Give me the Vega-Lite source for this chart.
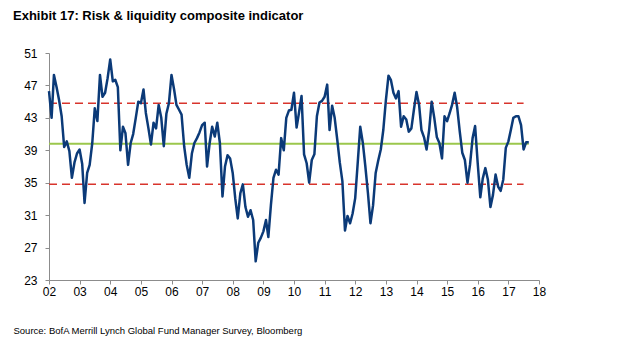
{
  "$schema": "https://vega.github.io/schema/vega-lite/v6.json",
  "autosize": "none",
  "width": 490,
  "height": 227,
  "padding": {"left": 49, "top": 53, "right": 101, "bottom": 84},
  "background": "white",
  "config": {
    "view": {"stroke": null},
    "font": "Liberation Sans, Arial"
  },
  "title": {
    "text": "Exhibit 17: Risk & liquidity composite indicator",
    "anchor": "start",
    "frame": "group",
    "dx": -36,
    "offset": 24,
    "fontSize": 13,
    "fontWeight": "bold",
    "color": "#000000",
    "font": "Liberation Sans, Arial"
  },
  "datasets": {
    "series": [
      {"d":"2002-01","v":46.3},{"d":"2002-02","v":43.0},{"d":"2002-03","v":48.3},{"d":"2002-04","v":46.8},{"d":"2002-05","v":45.2},{"d":"2002-06","v":43.2},{"d":"2002-07","v":39.4},{"d":"2002-08","v":40.1},{"d":"2002-09","v":38.9},{"d":"2002-10","v":35.6},{"d":"2002-11","v":37.5},{"d":"2002-12","v":38.6},
      {"d":"2003-01","v":39.1},{"d":"2003-02","v":37.3},{"d":"2003-03","v":32.5},{"d":"2003-04","v":36.2},{"d":"2003-05","v":37.2},{"d":"2003-06","v":39.9},{"d":"2003-07","v":44.2},{"d":"2003-08","v":42.6},{"d":"2003-09","v":48.3},{"d":"2003-10","v":45.6},{"d":"2003-11","v":46.1},{"d":"2003-12","v":47.9},
      {"d":"2004-01","v":50.2},{"d":"2004-02","v":47.5},{"d":"2004-03","v":47.7},{"d":"2004-04","v":46.8},{"d":"2004-05","v":39.0},{"d":"2004-06","v":41.9},{"d":"2004-07","v":41.1},{"d":"2004-08","v":37.2},{"d":"2004-09","v":39.9},{"d":"2004-10","v":41.0},{"d":"2004-11","v":43.0},{"d":"2004-12","v":45.0},
      {"d":"2005-01","v":44.8},{"d":"2005-02","v":46.5},{"d":"2005-03","v":43.6},{"d":"2005-04","v":41.7},{"d":"2005-05","v":39.7},{"d":"2005-06","v":42.4},{"d":"2005-07","v":41.7},{"d":"2005-08","v":44.6},{"d":"2005-09","v":43.0},{"d":"2005-10","v":39.5},{"d":"2005-11","v":43.5},{"d":"2005-12","v":44.8},
      {"d":"2006-01","v":48.3},{"d":"2006-02","v":46.5},{"d":"2006-03","v":44.6},{"d":"2006-04","v":44.0},{"d":"2006-05","v":43.4},{"d":"2006-06","v":39.5},{"d":"2006-07","v":37.2},{"d":"2006-08","v":35.6},{"d":"2006-09","v":38.6},{"d":"2006-10","v":39.9},{"d":"2006-11","v":40.5},{"d":"2006-12","v":41.2},
      {"d":"2007-01","v":42.1},{"d":"2007-02","v":42.4},{"d":"2007-03","v":37.0},{"d":"2007-04","v":39.9},{"d":"2007-05","v":41.9},{"d":"2007-06","v":40.7},{"d":"2007-07","v":42.4},{"d":"2007-08","v":39.9},{"d":"2007-09","v":33.3},{"d":"2007-10","v":37.0},{"d":"2007-11","v":38.4},{"d":"2007-12","v":38.0},
      {"d":"2008-01","v":36.2},{"d":"2008-02","v":33.0},{"d":"2008-03","v":30.6},{"d":"2008-04","v":33.7},{"d":"2008-05","v":34.8},{"d":"2008-06","v":32.0},{"d":"2008-07","v":30.8},{"d":"2008-08","v":31.6},{"d":"2008-09","v":30.4},{"d":"2008-10","v":25.3},{"d":"2008-11","v":27.6},{"d":"2008-12","v":28.2},
      {"d":"2009-01","v":29.0},{"d":"2009-02","v":30.4},{"d":"2009-03","v":28.3},{"d":"2009-04","v":32.3},{"d":"2009-05","v":35.6},{"d":"2009-06","v":36.6},{"d":"2009-07","v":36.0},{"d":"2009-08","v":40.5},{"d":"2009-09","v":39.0},{"d":"2009-10","v":43.0},{"d":"2009-11","v":43.9},{"d":"2009-12","v":44.0},
      {"d":"2010-01","v":46.1},{"d":"2010-02","v":41.8},{"d":"2010-03","v":43.6},{"d":"2010-04","v":45.7},{"d":"2010-05","v":38.5},{"d":"2010-06","v":37.4},{"d":"2010-07","v":35.0},{"d":"2010-08","v":37.8},{"d":"2010-09","v":38.5},{"d":"2010-10","v":43.2},{"d":"2010-11","v":44.9},{"d":"2010-12","v":45.1},
      {"d":"2011-01","v":45.6},{"d":"2011-02","v":47.1},{"d":"2011-03","v":41.5},{"d":"2011-04","v":44.5},{"d":"2011-05","v":43.0},{"d":"2011-06","v":40.3},{"d":"2011-07","v":37.5},{"d":"2011-08","v":35.2},{"d":"2011-09","v":29.1},{"d":"2011-10","v":30.9},{"d":"2011-11","v":30.0},{"d":"2011-12","v":31.2},
      {"d":"2012-01","v":33.1},{"d":"2012-02","v":37.6},{"d":"2012-03","v":41.9},{"d":"2012-04","v":39.9},{"d":"2012-05","v":37.0},{"d":"2012-06","v":33.7},{"d":"2012-07","v":30.0},{"d":"2012-08","v":32.2},{"d":"2012-09","v":36.2},{"d":"2012-10","v":37.7},{"d":"2012-11","v":39.1},{"d":"2012-12","v":41.5},
      {"d":"2013-01","v":45.2},{"d":"2013-02","v":48.2},{"d":"2013-03","v":47.7},{"d":"2013-04","v":46.1},{"d":"2013-05","v":45.4},{"d":"2013-06","v":46.3},{"d":"2013-07","v":41.9},{"d":"2013-08","v":43.2},{"d":"2013-09","v":42.8},{"d":"2013-10","v":41.3},{"d":"2013-11","v":41.7},{"d":"2013-12","v":44.0},
      {"d":"2014-01","v":46.2},{"d":"2014-02","v":44.6},{"d":"2014-03","v":41.5},{"d":"2014-04","v":40.6},{"d":"2014-05","v":39.1},{"d":"2014-06","v":41.5},{"d":"2014-07","v":45.0},{"d":"2014-08","v":43.0},{"d":"2014-09","v":40.6},{"d":"2014-10","v":39.9},{"d":"2014-11","v":38.0},{"d":"2014-12","v":43.2},
      {"d":"2015-01","v":42.6},{"d":"2015-02","v":43.6},{"d":"2015-03","v":44.6},{"d":"2015-04","v":46.1},{"d":"2015-05","v":44.3},{"d":"2015-06","v":41.3},{"d":"2015-07","v":38.7},{"d":"2015-08","v":37.8},{"d":"2015-09","v":35.0},{"d":"2015-10","v":37.2},{"d":"2015-11","v":40.5},{"d":"2015-12","v":42.0},
      {"d":"2016-01","v":37.4},{"d":"2016-02","v":33.2},{"d":"2016-03","v":35.5},{"d":"2016-04","v":36.8},{"d":"2016-05","v":35.4},{"d":"2016-06","v":32.0},{"d":"2016-07","v":33.5},{"d":"2016-08","v":36.0},{"d":"2016-09","v":34.5},{"d":"2016-10","v":34.0},{"d":"2016-11","v":35.4},{"d":"2016-12","v":39.3},
      {"d":"2017-01","v":40.1},{"d":"2017-02","v":41.6},{"d":"2017-03","v":43.0},{"d":"2017-04","v":43.2},{"d":"2017-05","v":43.2},{"d":"2017-06","v":42.1},{"d":"2017-07","v":39.1},{"d":"2017-08","v":40.0},{"d":"2017-09","v":40.0}
    ]
  },
  "encoding": {
    "x": {
      "field": "d",
      "type": "temporal",
      "scale": {"domain": [{"year": 2002, "month": 1, "date": 1}, {"year": 2018, "month": 1, "date": 1}], "nice": false},
      "axis": {
        "format": "%y",
        "tickCount": {"interval": "year", "step": 1},
        "grid": false,
        "domainColor": "#8c8c8c",
        "tickColor": "#8c8c8c",
        "tickSize": 4,
        "labelPadding": 2,
        "labelFontSize": 12,
        "labelColor": "#000000",
        "labelFlush": false,
        "labelOverlap": false,
        "title": "Source: BofA Merrill Lynch Global Fund Manager Survey, Bloomberg",
        "titleAnchor": "start",
        "titleAlign": "left",
        "titleX": -36,
        "titleY": 53,
        "titleBaseline": "alphabetic",
        "titleFontSize": 9.5,
        "titleFontWeight": "normal",
        "titleColor": "#000000"
      }
    },
    "y": {
      "field": "v",
      "type": "quantitative",
      "scale": {"domain": [23, 51], "nice": false, "zero": false},
      "axis": {
        "values": [23, 27, 31, 35, 39, 43, 47, 51],
        "grid": false,
        "title": null,
        "domainColor": "#8c8c8c",
        "tickColor": "#8c8c8c",
        "tickSize": 4,
        "labelPadding": 8,
        "labelFontSize": 12,
        "labelColor": "#000000",
        "labelOverlap": false,
        "labelFlush": false,
        "labelBound": false
      }
    }
  },
  "layer": [
    {
      "data": {
        "values": [
          {"v": 44.8, "d": "2002-01", "e": "2017-07"},
          {"v": 34.8, "d": "2002-01", "e": "2017-07"}
        ],
        "format": {"parse": {"d": "date:'%Y-%m'", "e": "date:'%Y-%m'"}}
      },
      "mark": {"type": "rule", "color": "#d8342c", "strokeWidth": 1.5, "strokeDash": [8, 5]},
      "encoding": {"x2": {"field": "e"}}
    },
    {
      "data": {
        "values": [
          {"v": 39.8, "d": "2002-01", "e": "2017-09"}
        ],
        "format": {"parse": {"d": "date:'%Y-%m'", "e": "date:'%Y-%m'"}}
      },
      "mark": {"type": "rule", "color": "#9bc74c", "strokeWidth": 2},
      "encoding": {"x2": {"field": "e"}}
    },
    {
      "data": {"name": "series", "format": {"parse": {"d": "date:'%Y-%m'"}}},
      "mark": {"type": "line", "color": "#0b3a78", "strokeWidth": 2.5, "strokeJoin": "round"},
      "encoding": {}
    }
  ]
}
